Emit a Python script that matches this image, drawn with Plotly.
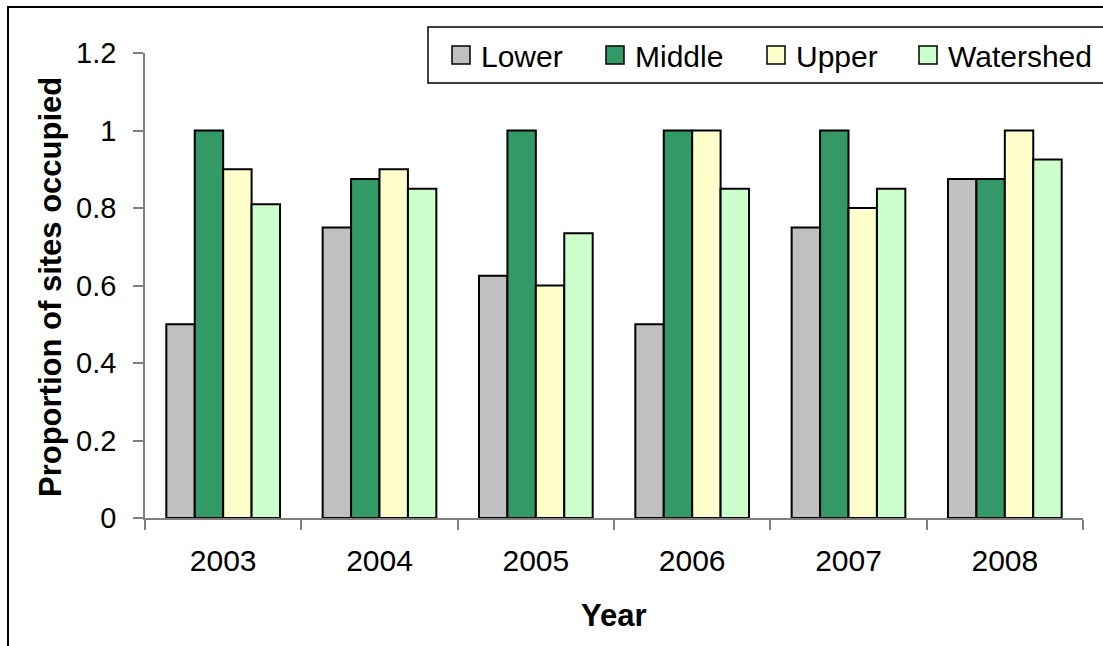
import plotly.graph_objects as go

# Site occupancy by year and watershed section
years = ["2003", "2004", "2005", "2006", "2007", "2008"]
lower = [0.5, 0.75, 0.625, 0.5, 0.75, 0.875]
middle = [1.0, 0.875, 1.0, 1.0, 1.0, 0.875]
upper = [0.9, 0.9, 0.6, 1.0, 0.8, 1.0]
watershed = [0.81, 0.85, 0.735, 0.85, 0.85, 0.925]

series_names = ["Lower", "Middle", "Upper", "Watershed"]
series_values = [lower, middle, upper, watershed]
series_colors = ["#C0C0C0", "#339966", "#FFFFCC", "#CCFFCC"]

FONT = "Liberation Sans, Arial, sans-serif"
W, H = 1103, 646
ML, MR, MT, MB = 145, 20, 53, 128
PW, PH = W - ML - MR, H - MT - MB


def px(x):
    """Horizontal pixel position -> paper fraction."""
    return (x - ML) / PW


def py(y):
    """Vertical pixel position (from top) -> paper fraction."""
    return (H - MB - y) / PH


fig = go.Figure()
for name, vals, color in zip(series_names, series_values, series_colors):
    fig.add_trace(go.Bar(
        x=years, y=vals, name=name, showlegend=False,
        marker=dict(color=color, line=dict(color="black", width=2)),
    ))

fig.update_layout(
    width=W, height=H,
    margin=dict(l=ML, r=MR, t=MT, b=MB),
    paper_bgcolor="white", plot_bgcolor="white",
    barmode="group", bargap=0.2727, bargroupgap=0,
    font=dict(family=FONT, size=29, color="black"),
)

fig.update_xaxes(
    type="category", tickson="boundaries",
    showline=True, linecolor="#808080", linewidth=1.5,
    ticks="outside", ticklen=10, tickcolor="#808080", tickwidth=1.5,
    ticklabelstandoff=15,
    tickfont=dict(family=FONT, size=30, color="black"),
    showgrid=False, zeroline=False,
)
fig.update_yaxes(
    range=[0, 1.2], dtick=0.2, tickformat="~g",
    showline=True, linecolor="#808080", linewidth=1.5,
    ticks="outside", ticklen=10, tickcolor="#808080", tickwidth=1.5,
    ticklabelstandoff=11,
    tickfont=dict(family=FONT, size=29, color="black"),
    showgrid=False, zeroline=False,
)

# Axis titles
fig.add_annotation(
    text="<b>Proportion of sites occupied</b>", textangle=-90,
    xref="paper", yref="paper", x=px(50), y=py(287),
    xanchor="center", yanchor="middle", showarrow=False,
    font=dict(family=FONT, size=31, color="black"),
)
fig.add_annotation(
    text="<b>Year</b>",
    xref="paper", yref="paper", x=px(614), y=py(615),
    xanchor="center", yanchor="middle", showarrow=False,
    font=dict(family=FONT, size=31, color="black"),
)

# Outer chart frame
fig.add_shape(
    type="rect", xref="paper", yref="paper",
    x0=px(8), x1=px(1130), y0=py(680), y1=py(7),
    line=dict(color="black", width=2), fillcolor="rgba(0,0,0,0)", layer="below",
)

# Legend box with square swatches
fig.add_shape(
    type="rect", xref="paper", yref="paper",
    x0=px(428), x1=px(1130), y0=py(83), y1=py(27),
    line=dict(color="black", width=1.5), fillcolor="white", layer="above",
)
swatch_left = [452, 606, 767, 919]
legend_cy = 55
for name, color, sx in zip(series_names, series_colors, swatch_left):
    fig.add_shape(
        type="rect", xref="paper", yref="paper",
        x0=px(sx), x1=px(sx + 18), y0=py(legend_cy + 9), y1=py(legend_cy - 9),
        line=dict(color="black", width=1.5), fillcolor=color, layer="above",
    )
    fig.add_annotation(
        text=name, xref="paper", yref="paper",
        x=px(sx + 27), y=py(legend_cy + 1),
        xanchor="left", yanchor="middle", showarrow=False,
        font=dict(family=FONT, size=30, color="black"),
    )

fig.write_html("out.html")
